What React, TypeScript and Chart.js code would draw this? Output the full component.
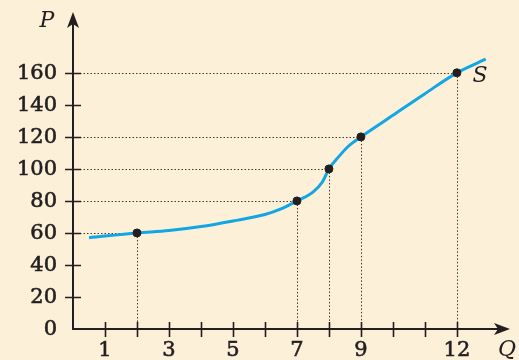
import React, { useEffect, useRef } from "react";
import { Chart, registerables } from "chart.js";

Chart.register(...registerables);

// Supply curve S (Q, P)
const curveQ = [0.5, 2, 3, 4, 5, 6, 6.5, 7, 7.5, 7.8, 8, 8.3, 8.6, 9, 10, 11, 12, 12.9];
const curveP = [57, 60, 61.5, 64, 67.5, 71.5, 75, 80, 85.5, 92, 100, 107.5, 114, 120, 133.5, 147, 160, 168.5];

// Marked points
const pointQ = [2, 7, 8, 9, 12];
const pointP = [60, 80, 100, 120, 160];

// Axis ticks
const xTickValues = [1, 2, 3, 4, 5, 6, 7, 8, 9, 10, 11, 12];
const xTickLabels = [1, 3, 5, 7, 9, 12];
const yTickValues = [0, 20, 40, 60, 80, 100, 120, 140, 160];

const BG = "#fcf0d9";
const INK = "#231f20";
const CURVE = "#12a6e2";
const FONT = "'DejaVu Serif', 'Liberation Serif', serif";

export default function App() {
  const ref = useRef<HTMLCanvasElement | null>(null);

  useEffect(() => {
    if (!ref.current) return;

    const axesPlugin = {
      id: "econAxes",
      beforeDraw(chart: any) {
        const { ctx } = chart;
        ctx.save();
        ctx.fillStyle = BG;
        ctx.fillRect(0, 0, chart.width, chart.height);
        ctx.restore();
      },
      beforeDatasetsDraw(chart: any) {
        const { ctx, scales } = chart;
        const xs = scales.x;
        const ys = scales.y;
        const x0 = xs.getPixelForValue(0);
        const y0 = ys.getPixelForValue(0);
        ctx.save();
        // dotted guide lines
        ctx.strokeStyle = "#3a3a3a";
        ctx.lineWidth = 1;
        ctx.setLineDash([1.5, 2]);
        for (let i = 0; i < pointQ.length; i++) {
          const px = xs.getPixelForValue(pointQ[i]);
          const py = ys.getPixelForValue(pointP[i]);
          ctx.beginPath();
          ctx.moveTo(x0, Math.round(py) + 0.5);
          ctx.lineTo(px, Math.round(py) + 0.5);
          ctx.stroke();
          ctx.beginPath();
          ctx.moveTo(Math.round(px) + 0.5, py);
          ctx.lineTo(Math.round(px) + 0.5, y0);
          ctx.stroke();
        }
        ctx.setLineDash([]);
        // axes
        ctx.strokeStyle = INK;
        ctx.fillStyle = INK;
        ctx.lineWidth = 2;
        const right = chart.chartArea.right;
        const top = chart.chartArea.top;
        ctx.beginPath();
        ctx.moveTo(x0, y0);
        ctx.lineTo(right - 8, y0);
        ctx.moveTo(x0, y0 + 1);
        ctx.lineTo(x0, top + 8);
        ctx.stroke();
        // arrow heads
        ctx.beginPath();
        ctx.moveTo(right, y0);
        ctx.lineTo(right - 16, y0 - 6);
        ctx.lineTo(right - 12, y0);
        ctx.lineTo(right - 16, y0 + 6);
        ctx.closePath();
        ctx.fill();
        ctx.beginPath();
        ctx.moveTo(x0, top);
        ctx.lineTo(x0 - 6, top + 16);
        ctx.lineTo(x0, top + 12);
        ctx.lineTo(x0 + 6, top + 16);
        ctx.closePath();
        ctx.fill();
        // tick marks
        ctx.lineWidth = 1.6;
        ctx.beginPath();
        for (const v of xTickValues) {
          const px = Math.round(xs.getPixelForValue(v)) + 0.5;
          ctx.moveTo(px, y0 - 7);
          ctx.lineTo(px, y0 + 8);
        }
        for (const v of yTickValues) {
          if (v === 0) continue;
          const py = Math.round(ys.getPixelForValue(v)) + 0.5;
          ctx.moveTo(x0 - 8, py);
          ctx.lineTo(x0 + 8, py);
        }
        ctx.stroke();
        // tick labels (slightly emboldened)
        ctx.font = `21px ${FONT}`;
        ctx.lineWidth = 0.6;
        ctx.textBaseline = "middle";
        ctx.textAlign = "right";
        for (const v of yTickValues) {
          const ty = ys.getPixelForValue(v) + 1;
          ctx.fillText(String(v), x0 - 16, ty);
          ctx.strokeText(String(v), x0 - 16, ty);
        }
        ctx.textAlign = "center";
        for (const v of xTickLabels) {
          const tx = xs.getPixelForValue(v);
          ctx.fillText(String(v), tx, y0 + 22);
          ctx.strokeText(String(v), tx, y0 + 22);
        }
        // axis letters
        ctx.font = `italic 22px ${FONT}`;
        ctx.fillText("P", 47, 21);
        ctx.fillText("Q", 507, 350);
        ctx.fillText("S", 480, 76);
        ctx.restore();
      },
    };

    const chart = new Chart(ref.current, {
      type: "scatter",
      data: {
        datasets: [
          {
            type: "line",
            data: curveQ.map((q, i) => ({ x: q, y: curveP[i] })),
            borderColor: CURVE,
            borderWidth: 3,
            pointRadius: 0,
            cubicInterpolationMode: "monotone",
            fill: false,
            order: 2,
          } as any,
          {
            data: pointQ.map((q, i) => ({ x: q, y: pointP[i] })),
            backgroundColor: INK,
            borderColor: INK,
            pointRadius: 4,
            pointHoverRadius: 4,
            order: 1,
          },
        ],
      },
      options: {
        animation: false,
        responsive: false,
        events: [],
        layout: { padding: { top: 12, right: 9, left: 73, bottom: 31 } },
        plugins: { legend: { display: false }, tooltip: { enabled: false } },
        scales: {
          x: {
            type: "linear",
            display: false,
            min: 0,
            max: 13.66,
          },
          y: {
            type: "linear",
            display: false,
            min: 0,
            max: 198,
          },
        },
      },
      plugins: [axesPlugin],
    });
    return () => chart.destroy();
  }, []);

  return (
    <div style={{ position: "fixed", left: 0, top: 0, width: 519, height: 360, background: BG }}>
      <canvas ref={ref} width={519} height={360} style={{ display: "block", width: 519, height: 360 }} />
    </div>
  );
}
